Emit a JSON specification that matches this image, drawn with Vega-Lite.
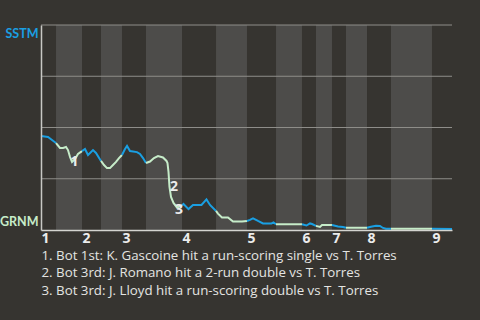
{
  "$schema": "https://vega.github.io/schema/vega-lite/v6.json",
  "width": 411,
  "height": 205,
  "autosize": {"type": "none"},
  "padding": {"left": 41, "top": 25, "right": 28, "bottom": 90},
  "background": "#363430",
  "config": {"view": {"stroke": null}, "font": "Open Sans"},
  "datasets": {
    "bands": [
      {"start": 3.07, "end": 8.38},
      {"start": 12.26, "end": 16.55},
      {"start": 21.46, "end": 28.82},
      {"start": 35.77, "end": 42.10},
      {"start": 48.03, "end": 53.34},
      {"start": 56.20, "end": 59.47},
      {"start": 62.33, "end": 66.63},
      {"start": 71.53, "end": 79.91}
    ],
    "grid": [{"v": 0.25}, {"v": 0.5}, {"v": 0.75}, {"v": 1}],
    "notes": [
      {"n": "1", "x": 6.85, "y": 0.332},
      {"n": "2", "x": 27.2, "y": 0.21},
      {"n": "3", "x": 28.2, "y": 0.098}
    ],
    "wp": [
      {"half": "T1", "team": "SSTM", "x": 0, "p": 0.459},
      {"half": "T1", "team": "SSTM", "x": 1.43, "p": 0.454},
      {"half": "T1", "team": "SSTM", "x": 2.25, "p": 0.439},
      {"half": "T1", "team": "SSTM", "x": 3.07, "p": 0.424},
      {"half": "B1", "team": "GRNM", "x": 3.07, "p": 0.424},
      {"half": "B1", "team": "GRNM", "x": 3.88, "p": 0.400},
      {"half": "B1", "team": "GRNM", "x": 4.50, "p": 0.400},
      {"half": "B1", "team": "GRNM", "x": 5.11, "p": 0.405},
      {"half": "B1", "team": "GRNM", "x": 5.52, "p": 0.390},
      {"half": "B1", "team": "GRNM", "x": 5.93, "p": 0.356},
      {"half": "B1", "team": "GRNM", "x": 6.34, "p": 0.332},
      {"half": "B1", "team": "GRNM", "x": 6.95, "p": 0.346},
      {"half": "B1", "team": "GRNM", "x": 7.56, "p": 0.371},
      {"half": "B1", "team": "GRNM", "x": 8.38, "p": 0.385},
      {"half": "T2", "team": "SSTM", "x": 8.38, "p": 0.385},
      {"half": "T2", "team": "SSTM", "x": 8.99, "p": 0.395},
      {"half": "T2", "team": "SSTM", "x": 9.61, "p": 0.366},
      {"half": "T2", "team": "SSTM", "x": 10.63, "p": 0.390},
      {"half": "T2", "team": "SSTM", "x": 11.24, "p": 0.376},
      {"half": "T2", "team": "SSTM", "x": 12.26, "p": 0.337},
      {"half": "B2", "team": "GRNM", "x": 12.26, "p": 0.337},
      {"half": "B2", "team": "GRNM", "x": 12.88, "p": 0.317},
      {"half": "B2", "team": "GRNM", "x": 13.49, "p": 0.302},
      {"half": "B2", "team": "GRNM", "x": 14.10, "p": 0.302},
      {"half": "B2", "team": "GRNM", "x": 14.71, "p": 0.317},
      {"half": "B2", "team": "GRNM", "x": 15.33, "p": 0.332},
      {"half": "B2", "team": "GRNM", "x": 15.94, "p": 0.351},
      {"half": "B2", "team": "GRNM", "x": 16.55, "p": 0.366},
      {"half": "T3", "team": "SSTM", "x": 16.55, "p": 0.366},
      {"half": "T3", "team": "SSTM", "x": 17.17, "p": 0.395},
      {"half": "T3", "team": "SSTM", "x": 17.58, "p": 0.410},
      {"half": "T3", "team": "SSTM", "x": 18.19, "p": 0.385},
      {"half": "T3", "team": "SSTM", "x": 19.62, "p": 0.380},
      {"half": "T3", "team": "SSTM", "x": 20.23, "p": 0.371},
      {"half": "T3", "team": "SSTM", "x": 20.85, "p": 0.351},
      {"half": "T3", "team": "SSTM", "x": 21.46, "p": 0.327},
      {"half": "B3", "team": "GRNM", "x": 21.46, "p": 0.327},
      {"half": "B3", "team": "GRNM", "x": 22.28, "p": 0.334},
      {"half": "B3", "team": "GRNM", "x": 23.09, "p": 0.351},
      {"half": "B3", "team": "GRNM", "x": 23.91, "p": 0.361},
      {"half": "B3", "team": "GRNM", "x": 24.93, "p": 0.354},
      {"half": "B3", "team": "GRNM", "x": 25.65, "p": 0.337},
      {"half": "B3", "team": "GRNM", "x": 25.85, "p": 0.327},
      {"half": "B3", "team": "GRNM", "x": 26.06, "p": 0.283},
      {"half": "B3", "team": "GRNM", "x": 26.26, "p": 0.210},
      {"half": "B3", "team": "GRNM", "x": 26.57, "p": 0.161},
      {"half": "B3", "team": "GRNM", "x": 27.08, "p": 0.132},
      {"half": "B3", "team": "GRNM", "x": 27.79, "p": 0.110},
      {"half": "B3", "team": "GRNM", "x": 28.82, "p": 0.120},
      {"half": "T4", "team": "SSTM", "x": 28.82, "p": 0.120},
      {"half": "T4", "team": "SSTM", "x": 29.12, "p": 0.127},
      {"half": "T4", "team": "SSTM", "x": 30.15, "p": 0.102},
      {"half": "T4", "team": "SSTM", "x": 31.06, "p": 0.122},
      {"half": "T4", "team": "SSTM", "x": 32.80, "p": 0.122},
      {"half": "T4", "team": "SSTM", "x": 33.82, "p": 0.149},
      {"half": "T4", "team": "SSTM", "x": 34.54, "p": 0.122},
      {"half": "T4", "team": "SSTM", "x": 35.77, "p": 0.093},
      {"half": "B4", "team": "GRNM", "x": 35.77, "p": 0.093},
      {"half": "B4", "team": "GRNM", "x": 36.17, "p": 0.080},
      {"half": "B4", "team": "GRNM", "x": 36.99, "p": 0.061},
      {"half": "B4", "team": "GRNM", "x": 38.22, "p": 0.061},
      {"half": "B4", "team": "GRNM", "x": 39.24, "p": 0.041},
      {"half": "B4", "team": "GRNM", "x": 41.08, "p": 0.041},
      {"half": "B4", "team": "GRNM", "x": 42.10, "p": 0.044},
      {"half": "T5", "team": "SSTM", "x": 42.10, "p": 0.044},
      {"half": "T5", "team": "SSTM", "x": 42.71, "p": 0.049},
      {"half": "T5", "team": "SSTM", "x": 43.33, "p": 0.057},
      {"half": "T5", "team": "SSTM", "x": 44.35, "p": 0.044},
      {"half": "T5", "team": "SSTM", "x": 45.37, "p": 0.032},
      {"half": "T5", "team": "SSTM", "x": 47.11, "p": 0.032},
      {"half": "T5", "team": "SSTM", "x": 47.52, "p": 0.037},
      {"half": "T5", "team": "SSTM", "x": 48.03, "p": 0.028},
      {"half": "B5", "team": "GRNM", "x": 48.03, "p": 0.028},
      {"half": "B5", "team": "GRNM", "x": 53.34, "p": 0.028},
      {"half": "T6", "team": "SSTM", "x": 53.34, "p": 0.028},
      {"half": "T6", "team": "SSTM", "x": 54.26, "p": 0.022},
      {"half": "T6", "team": "SSTM", "x": 54.98, "p": 0.032},
      {"half": "T6", "team": "SSTM", "x": 55.39, "p": 0.029},
      {"half": "T6", "team": "SSTM", "x": 56.20, "p": 0.020},
      {"half": "B6", "team": "GRNM", "x": 56.20, "p": 0.020},
      {"half": "B6", "team": "GRNM", "x": 57.02, "p": 0.015},
      {"half": "B6", "team": "GRNM", "x": 57.43, "p": 0.024},
      {"half": "B6", "team": "GRNM", "x": 59.47, "p": 0.024},
      {"half": "T7", "team": "SSTM", "x": 59.47, "p": 0.024},
      {"half": "T7", "team": "SSTM", "x": 59.88, "p": 0.022},
      {"half": "T7", "team": "SSTM", "x": 60.70, "p": 0.017},
      {"half": "T7", "team": "SSTM", "x": 61.72, "p": 0.015},
      {"half": "T7", "team": "SSTM", "x": 62.33, "p": 0.011},
      {"half": "B7", "team": "GRNM", "x": 62.33, "p": 0.011},
      {"half": "B7", "team": "GRNM", "x": 66.63, "p": 0.011},
      {"half": "T8", "team": "SSTM", "x": 66.63, "p": 0.011},
      {"half": "T8", "team": "SSTM", "x": 67.44, "p": 0.016},
      {"half": "T8", "team": "SSTM", "x": 68.46, "p": 0.021},
      {"half": "T8", "team": "SSTM", "x": 69.28, "p": 0.020},
      {"half": "T8", "team": "SSTM", "x": 69.89, "p": 0.010},
      {"half": "T8", "team": "SSTM", "x": 70.51, "p": 0.006},
      {"half": "T8", "team": "SSTM", "x": 71.53, "p": 0.006},
      {"half": "B8", "team": "GRNM", "x": 71.53, "p": 0.006},
      {"half": "B8", "team": "GRNM", "x": 79.91, "p": 0.006},
      {"half": "T9", "team": "SSTM", "x": 79.91, "p": 0.006},
      {"half": "T9", "team": "SSTM", "x": 84, "p": 0.005}
    ]
  },
  "layer": [
    {
      "data": {"name": "bands"},
      "mark": {"type": "rect", "color": "#4d4c4a"},
      "encoding": {
        "x": {
          "field": "start", "type": "quantitative",
          "scale": {"domain": [0, 84], "nice": false, "zero": false},
          "axis": {
            "values": [0, 8.38, 16.55, 28.82, 42.10, 53.34, 59.47, 66.63, 79.91],
            "labelExpr": "datum.value < 4 ? '1' : datum.value < 12 ? '2' : datum.value < 20 ? '3' : datum.value < 35 ? '4' : datum.value < 50 ? '5' : datum.value < 56 ? '6' : datum.value < 63 ? '7' : datum.value < 75 ? '8' : '9'",
            "labelAlign": "left",
            "labelDx": 1,
            "labelPadding": 1,
            "labelFontSize": 14,
            "labelFontWeight": "bold",
            "labelColor": "#ececec",
            "labelFlush": false,
            "ticks": false,
            "grid": false,
            "domainColor": "#d4d4d0",
            "domainWidth": 1.5,
            "zindex": 1,
            "title": [
              "1. Bot 1st: K. Gascoine hit a run-scoring single vs T. Torres",
              "2. Bot 3rd: J. Romano hit a 2-run double vs T. Torres",
              "3. Bot 3rd: J. Lloyd hit a run-scoring double vs T. Torres"
            ],
            "titleAnchor": "start",
            "titleAlign": "left",
            "titleBaseline": "top",
            "titleX": 0,
            "titleY": 18,
            "titleFontSize": 13.3,
            "titleFontWeight": "normal",
            "titleLineHeight": 17.5,
            "titleColor": "#e4e4e2"
          }
        },
        "x2": {"field": "end"}
      }
    },
    {
      "data": {"name": "grid"},
      "mark": {"type": "rule", "color": "#8e8d89", "strokeWidth": 1},
      "encoding": {
        "y": {
          "field": "v", "type": "quantitative",
          "scale": {"domain": [0, 1], "nice": false},
          "axis": {
            "values": [0, 1],
            "labelExpr": "datum.value == 1 ? 'SSTM' : 'GRNM'",
            "labelFlush": true,
            "labelFlushOffset": -2,
            "labelFont": "Lato",
            "labelFontSize": 12.5,
            "labelFontWeight": "bold",
            "labelColor": {"condition": {"test": "datum.value == 1", "value": "#1a9fe2"}, "value": "#c6ecc9"},
            "labelAlign": "right",
            "labelPadding": 3,
            "ticks": false,
            "grid": false,
            "domainColor": "#c8c8c4",
            "domainWidth": 1.5,
            "zindex": 1,
            "title": null
          }
        }
      }
    },
    {
      "data": {"name": "wp"},
      "mark": {"type": "line", "strokeWidth": 2},
      "encoding": {
        "x": {"field": "x", "type": "quantitative"},
        "y": {"field": "p", "type": "quantitative"},
        "detail": {"field": "half"},
        "color": {
          "field": "team", "type": "nominal",
          "scale": {"domain": ["SSTM", "GRNM"], "range": ["#1a9fe2", "#c6ecc9"]},
          "legend": null
        }
      }
    },
    {
      "data": {"name": "notes"},
      "mark": {"type": "text", "fontSize": 14, "fontWeight": "bold", "color": "#ececec"},
      "encoding": {
        "x": {"field": "x", "type": "quantitative"},
        "y": {"field": "y", "type": "quantitative"},
        "text": {"field": "n"}
      }
    }
  ]
}
